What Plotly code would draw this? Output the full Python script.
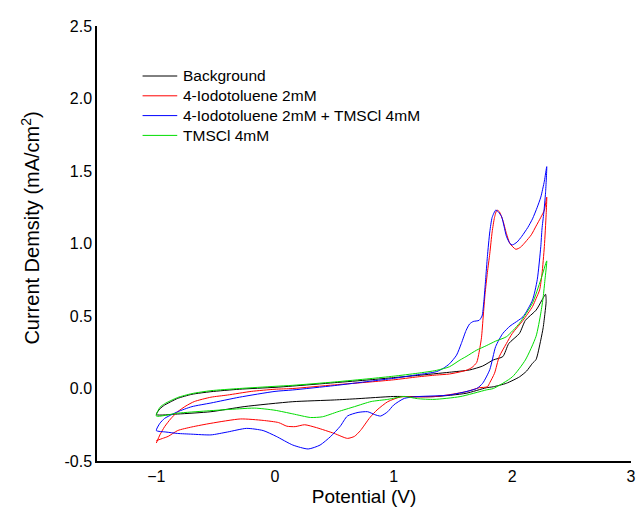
import plotly.graph_objects as go

# Background
bg_x = [-1.0, -0.97, -0.93, -0.87, -0.82, -0.7, -0.54, -0.3, 0.0, 0.15, 0.5, 0.8, 1.0, 1.2, 1.47, 1.64, 1.75, 1.84, 1.92, 1.97, 2.06, 2.11, 2.2, 2.25, 2.28,
        2.285, 2.275, 2.26, 2.24, 2.2, 2.17, 2.12, 2.06, 1.95, 1.84, 1.78, 1.61, 1.34, 1.0, 0.7, 0.5, 0.15, -0.26, -0.54, -0.82, -1.0]
bg_y = [-0.18, -0.14, -0.114, -0.088, -0.068, -0.04, -0.022, -0.005, 0.008, 0.017, 0.04, 0.06, 0.075, 0.09, 0.112, 0.128, 0.155, 0.197, 0.22, 0.31, 0.38, 0.47, 0.54, 0.61, 0.65,
        0.6, 0.52, 0.42, 0.335, 0.2, 0.174, 0.12, 0.08, 0.036, 0.012, 0.005, -0.033, -0.056, -0.055, -0.07, -0.079, -0.091, -0.125, -0.16, -0.176, -0.18]

# 4-Iodotoluene 2mM
io_x = [-1.0, -0.97, -0.93, -0.88, -0.82, -0.75, -0.68, -0.54, -0.4, -0.2, 0.0, 0.15, 0.5, 0.8, 1.0, 1.2, 1.36, 1.47, 1.61, 1.66, 1.70, 1.72, 1.74, 1.755, 1.77, 1.79, 1.81, 1.83, 1.85, 1.87, 1.89, 1.92, 1.95, 1.98, 2.03, 2.07, 2.11, 2.16, 2.20, 2.24, 2.27, 2.29,
        2.285, 2.27, 2.25, 2.23, 2.2, 2.17, 2.09, 2.0, 1.95, 1.89, 1.85, 1.81, 1.79, 1.72, 1.61, 1.45, 1.34, 1.2, 1.06, 0.95, 0.86, 0.80, 0.72, 0.67, 0.61, 0.5, 0.35, 0.25, 0.17, 0.1, 0.03, -0.1, -0.29, -0.54, -0.7, -0.82, -0.9, -0.95, -1.0]
io_y = [-0.376, -0.32, -0.263, -0.21, -0.16, -0.12, -0.09, -0.06, -0.045, -0.02, -0.005, 0.0, 0.025, 0.045, 0.06, 0.08, 0.093, 0.10, 0.125, 0.145, 0.18, 0.25, 0.35, 0.5, 0.65, 0.8, 0.93, 1.08, 1.18, 1.23, 1.22, 1.16, 1.07, 1.0, 0.96, 0.975, 1.01, 1.06, 1.12, 1.18, 1.23, 1.32,
        1.2, 0.98, 0.79, 0.68, 0.62, 0.565, 0.47, 0.38, 0.31, 0.22, 0.105, 0.04, 0.012, 0.005, -0.022, -0.045, -0.056, -0.058, -0.058, -0.091, -0.148, -0.2, -0.29, -0.33, -0.344, -0.31, -0.27, -0.25, -0.263, -0.26, -0.235, -0.22, -0.21, -0.24, -0.265, -0.29, -0.33, -0.345, -0.36]

# 4-Iodotoluene 2mM + TMSCl 4mM
mix_x = [-1.0, -0.97, -0.93, -0.87, -0.82, -0.7, -0.54, -0.3, 0.0, 0.15, 0.5, 0.8, 1.0, 1.2, 1.36, 1.42, 1.47, 1.53, 1.57, 1.61, 1.64, 1.67, 1.72, 1.745, 1.76, 1.775, 1.79, 1.81, 1.83, 1.86, 1.88, 1.91, 1.93, 1.95, 1.98, 2.0, 2.04, 2.08, 2.13, 2.17, 2.21, 2.24, 2.27, 2.29,
         2.28, 2.265, 2.25, 2.24, 2.21, 2.17, 2.09, 1.98, 1.92, 1.86, 1.81, 1.75, 1.70, 1.47, 1.2, 1.09, 1.0, 0.95, 0.89, 0.84, 0.78, 0.70, 0.61, 0.55, 0.47, 0.38, 0.28, 0.15, 0.01, -0.1, -0.24, -0.4, -0.54, -0.7, -0.82, -0.92, -1.0]
mix_y = [-0.29, -0.24, -0.206, -0.18, -0.16, -0.125, -0.10, -0.06, -0.02, -0.01, 0.02, 0.05, 0.07, 0.095, 0.116, 0.14, 0.17, 0.23, 0.31, 0.40, 0.445, 0.462, 0.47, 0.50, 0.6, 0.75, 0.91, 1.08, 1.18, 1.23, 1.22, 1.185, 1.12, 1.05, 1.0, 0.99, 1.01, 1.05, 1.11, 1.17, 1.25, 1.32, 1.43, 1.53,
         1.35, 1.21, 1.1, 0.98, 0.75, 0.61, 0.495, 0.43, 0.38, 0.29, 0.13, 0.036, 0.0, -0.045, -0.056, -0.068, -0.114, -0.16, -0.19, -0.18, -0.16, -0.165, -0.19, -0.26, -0.33, -0.39, -0.417, -0.39, -0.33, -0.29, -0.275, -0.3, -0.32, -0.315, -0.31, -0.3, -0.29]

# TMSCl 4mM
tm_x = [-1.0, -0.97, -0.93, -0.82, -0.7, -0.54, -0.3, 0.0, 0.15, 0.5, 0.8, 1.0, 1.2, 1.36, 1.47, 1.56, 1.61, 1.70, 1.78, 1.86, 1.95, 2.06, 2.17, 2.24, 2.29,
        2.275, 2.26, 2.24, 2.2, 2.11, 2.0, 1.84, 1.78, 1.56, 1.34, 1.2, 1.09, 0.95, 0.81, 0.67, 0.53, 0.4, 0.3, 0.15, 0.0, -0.17, -0.3, -0.58, -0.82, -1.0]
tm_y = [-0.19, -0.13, -0.105, -0.062, -0.035, -0.015, 0.0, 0.015, 0.022, 0.045, 0.068, 0.085, 0.105, 0.125, 0.15, 0.197, 0.22, 0.265, 0.295, 0.327, 0.357, 0.45, 0.59, 0.75, 0.88,
        0.75, 0.63, 0.52, 0.36, 0.197, 0.08, 0.0, -0.01, -0.056, -0.075, -0.07, -0.055, -0.075, -0.09, -0.125, -0.16, -0.195, -0.2, -0.175, -0.15, -0.135, -0.14, -0.155, -0.17, -0.19]

names = ["Background", "4-Iodotoluene 2mM", "4-Iodotoluene 2mM + TMSCl 4mM", "TMSCl 4mM"]
colors = ["#000000", "#ff0000", "#0000ff", "#00dd00"]
xs = [bg_x, io_x, mix_x, tm_x]
ys = [bg_y, io_y, mix_y, tm_y]

x_ticks = [-1, 0, 1, 2, 3]
y_ticks = [-0.5, 0.0, 0.5, 1.0, 1.5, 2.0, 2.5]
y_tick_text = ["-0.5", "0.0", "0.5", "1.0", "1.5", "2.0", "2.5"]
x_title = "Potential (V)"
y_title = "Current Demsity (mA/cm<sup>2</sup>)"

W, H = 639, 510
ML, MR, MT, MB = 97, 3, 26, 49
PW, PH = W - ML - MR, H - MT - MB


def px2paper_x(px):
    return (px - ML) / PW


def py2paper_y(py):
    return 1 - (py - MT) / PH


fig = go.Figure()
for x, y, n, c in zip(xs, ys, names, colors):
    fig.add_trace(go.Scatter(x=x, y=y, mode="lines", name=n, showlegend=False,
                             line=dict(color=c, width=1, shape="spline", smoothing=0.6)))

font = "Liberation Sans, Arial, sans-serif"

# legend drawn as lines + text in paper coordinates
legend_row0, legend_dy = 76, 19.8
for i, (n, c) in enumerate(zip(names, colors)):
    yy = py2paper_y(legend_row0 + i * legend_dy)
    fig.add_shape(type="line", xref="paper", yref="paper",
                  x0=px2paper_x(143), x1=px2paper_x(178), y0=yy, y1=yy,
                  line=dict(color=c, width=1))
    fig.add_annotation(xref="paper", yref="paper", x=px2paper_x(182), y=yy,
                       xanchor="left", yanchor="middle", text=n, showarrow=False,
                       font=dict(size=15.5, family=font, color="black"))

# y-axis title as a rotated annotation, placed like the reference
fig.add_annotation(xref="paper", yref="paper", x=px2paper_x(30), y=py2paper_y(228),
                   xanchor="center", yanchor="middle", text=y_title, textangle=-90,
                   showarrow=False, font=dict(size=20, family=font, color="black"))

fig.update_layout(
    width=W, height=H,
    margin=dict(l=ML, r=MR, t=MT, b=MB),
    paper_bgcolor="white", plot_bgcolor="white",
    font=dict(family=font, color="black", size=16),
    showlegend=False,
    xaxis=dict(range=[-1.5, 3.0001], tickvals=x_ticks, ticks="", showgrid=False, zeroline=False,
               showline=True, linecolor="black", linewidth=1.5, ticklabeloverflow="allow",
               title=dict(text=x_title, font=dict(size=19, family=font), standoff=6),
               tickfont=dict(size=16, family=font)),
    yaxis=dict(range=[-0.5, 2.5], tickvals=y_ticks, ticktext=y_tick_text, ticks="", showgrid=False, zeroline=False,
               showline=True, linecolor="black", linewidth=1.5,
               tickfont=dict(size=16, family=font)),
)

fig.write_html("out.html")
